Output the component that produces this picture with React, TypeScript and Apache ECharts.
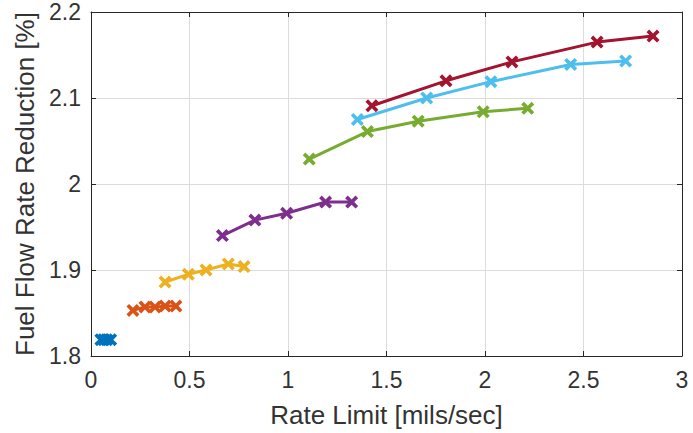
import React, { useEffect, useRef } from "react";
import * as echarts from "echarts";

const s1x = [0.05, 0.065, 0.08, 0.1];
const s1y = [1.819, 1.819, 1.819, 1.819];
const s2x = [0.213, 0.274, 0.325, 0.376, 0.431];
const s2y = [1.853, 1.857, 1.857, 1.858, 1.858];
const s3x = [0.376, 0.494, 0.584, 0.697, 0.777];
const s3y = [1.886, 1.895, 1.9, 1.907, 1.904];
const s4x = [0.667, 0.832, 0.993, 1.191, 1.323];
const s4y = [1.94, 1.958, 1.966, 1.979, 1.979];
const s5x = [1.108, 1.403, 1.661, 1.991, 2.217];
const s5y = [2.029, 2.061, 2.073, 2.084, 2.088];
const s6x = [1.352, 1.704, 2.03, 2.435, 2.714];
const s6y = [2.075, 2.1, 2.119, 2.139, 2.143];
const s7x = [1.426, 1.802, 2.137, 2.569, 2.853];
const s7y = [2.091, 2.12, 2.142, 2.165, 2.172];

const colors = ["#0072BD", "#D95319", "#EDB120", "#7E2F8E", "#77AC30", "#4DBEEE", "#A2142F"];
const seriesX = [s1x, s2x, s3x, s4x, s5x, s6x, s7x];
const seriesY = [s1y, s2y, s3y, s4y, s5y, s6y, s7y];

const xTitle = "Rate Limit [mils/sec]";
const yTitle = "Fuel Flow Rate Reduction [%]";

const cross = "path://M2,0 L5,3 L8,0 L10,2 L7,5 L10,8 L8,10 L5,7 L2,10 L0,8 L3,5 L0,2 Z";

export default function App() {
  const ref = useRef<HTMLDivElement>(null);
  useEffect(() => {
    const chart = echarts.init(ref.current!, null, { renderer: "svg" });
    const font = "'Liberation Sans', Arial, sans-serif";
    const axisLine = { show: true, onZero: false, lineStyle: { color: "#262626", width: 1 } };
    const tick = { show: true, inside: true, length: 5, lineStyle: { color: "#262626" } };
    chart.setOption({
      animation: false,
      grid: { left: 91, right: 11, top: 12, bottom: 77, containLabel: false },
      xAxis: [
        {
          type: "value", min: 0, max: 3, interval: 0.5,
          axisLine, axisTick: tick,
          axisLabel: { color: "#333333", fontSize: 23, fontFamily: font, margin: 12, showMaxLabel: true, showMinLabel: true },
          splitLine: { show: true, lineStyle: { color: "#DCDCDC", width: 1 } },
          name: xTitle, nameLocation: "middle", nameGap: 46,
          nameTextStyle: { color: "#333333", fontSize: 26, fontFamily: font },
        },
        {
          type: "value", position: "top", min: 0, max: 3, interval: 0.5,
          axisLine, axisTick: tick,
          axisLabel: { show: false }, splitLine: { show: false },
        },
      ],
      yAxis: [
        {
          type: "value", min: 1.8, max: 2.2, interval: 0.1,
          axisLine, axisTick: tick,
          axisLabel: { color: "#333333", fontSize: 23, fontFamily: font, margin: 10, showMaxLabel: true, showMinLabel: true },
          splitLine: { show: true, lineStyle: { color: "#DCDCDC", width: 1 } },
          name: yTitle, nameLocation: "middle", nameGap: 50, nameRotate: 90,
          nameTextStyle: { color: "#333333", fontSize: 26, fontFamily: font },
        },
        {
          type: "value", position: "right", min: 1.8, max: 2.2, interval: 0.1,
          axisLine, axisTick: tick,
          axisLabel: { show: false }, splitLine: { show: false },
        },
      ],
      series: seriesX.map((xs, i) => ({
        type: "line",
        xAxisIndex: 0,
        yAxisIndex: 0,
        data: xs.map((x, j) => [x, seriesY[i][j]]),
        symbol: cross,
        symbolSize: 13,
        showSymbol: true,
        lineStyle: { color: colors[i], width: 3 },
        itemStyle: { color: colors[i], borderWidth: 0 },
      })),
    });
    return () => chart.dispose();
  }, []);
  return <div ref={ref} style={{ position: "absolute", left: 0, top: 0, width: 693, height: 433 }} />;
}
